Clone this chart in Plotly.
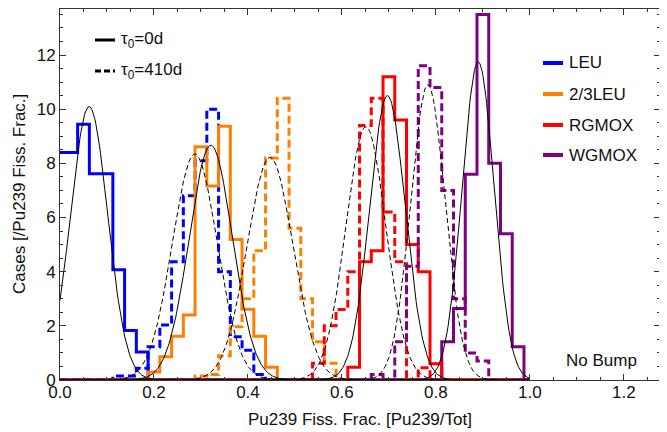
import numpy as np
import plotly.graph_objects as go

# ---------------- data ----------------
bin_width = 0.025

# Histogram heights [cases / Pu239 fiss. frac.], consecutive bins of width 0.025
leu_0d_start = -0.0125
leu_0d = [8.4, 8.4, 9.44, 7.62, 7.62, 4.07, 1.83, 1.03]
leu_410d_start = 0.1125
leu_410d = [0.15, 0.15, 0.43, 1.23, 2.03, 4.37, 6.8, 8.1, 10.0, 4.0, 1.6, 1.1, 0.2]

leu23_0d_start = 0.1875
leu23_0d = [0.3, 0.86, 1.62, 2.4, 8.61, 7.16, 9.37, 5.19, 2.61, 1.62, 0.47]
leu23_410d_start = 0.2875
leu23_410d = [0.15, 0.2, 0.9, 1.97, 3.0, 4.77, 8.2, 10.4, 5.6, 3.0, 1.41, 0.62]

rgmox_0d_start = 0.6125
rgmox_0d = [0.47, 4.37, 4.77, 11.2, 9.6, 5.0, 4.0, 0.6]
rgmox_410d_start = 0.5375
rgmox_410d = [0.62, 2.0, 2.6, 4.0, 9.4, 10.4, 6.2, 4.37, 0.0, 0.45]

wgmox_0d_start = 0.8125
wgmox_0d = [1.41, 2.64, 7.6, 13.5, 8.0, 5.4, 1.23]
wgmox_410d_start = 0.6625
wgmox_410d = [0.2, 0.0, 1.41, 4.2, 11.6, 10.8, 7.0, 3.0, 1.0, 0.7]

materials = ["LEU", "2/3LEU", "RGMOX", "WGMOX"]
colors = ["#0000ff", "#ff8000", "#ff0000", "#800080"]

# Gaussian fits (unit area): means and peak heights
fit_mu_0d = [0.062, 0.321, 0.697, 0.890]
fit_peak_0d = [10.1, 8.67, 10.5, 11.75]
fit_mu_410d = [0.287, 0.447, 0.651, 0.783]
fit_peak_410d = [8.34, 8.22, 9.35, 10.9]

x_ticks = [0.0, 0.2, 0.4, 0.6, 0.8, 1.0, 1.2]
y_ticks = [0, 2, 4, 6, 8, 10, 12]

# ---------------- figure ----------------
FONT = "Liberation Sans, Arial, sans-serif"
fig = go.Figure()

# (start, values, colour, dashed) in drawing order
hist_list = [
    (leu_0d_start, leu_0d, colors[0], False),
    (leu_410d_start, leu_410d, colors[0], True),
    (leu23_0d_start, leu23_0d, colors[1], False),
    (leu23_410d_start, leu23_410d, colors[1], True),
    (wgmox_0d_start, wgmox_0d, colors[3], False),
    (rgmox_410d_start, rgmox_410d, colors[2], True),
    (rgmox_0d_start, rgmox_0d, colors[2], False),
    (wgmox_410d_start, wgmox_410d, colors[3], True),
]


def step_xy(start, vals, xmin=0.0, xmax=1.0):
    edges = [start + i * bin_width for i in range(len(vals) + 1)]
    xs, ys = [], []
    if start > xmin:
        xs.append(xmin)
        ys.append(0.0)
    xs += edges
    ys += list(vals) + [0.0]
    xs.append(xmax)
    ys.append(0.0)
    return xs, ys


for start, vals, col, dashed in hist_list:
    xs, ys = step_xy(start, vals)
    fig.add_trace(go.Scatter(x=xs, y=ys, mode="lines", line_shape="hv",
                             line=dict(color=col, width=3, dash="8px,4px" if dashed else "solid"),
                             showlegend=False, hoverinfo="skip"))

xf = np.linspace(0.0, 1.0, 501)
for mu, pk in zip(fit_mu_0d, fit_peak_0d):
    sig = 1.0 / (pk * np.sqrt(2 * np.pi))
    fig.add_trace(go.Scatter(x=xf, y=pk * np.exp(-(xf - mu) ** 2 / (2 * sig ** 2)),
                             mode="lines", line=dict(color="black", width=1),
                             showlegend=False, hoverinfo="skip"))
for mu, pk in zip(fit_mu_410d, fit_peak_410d):
    sig = 1.0 / (pk * np.sqrt(2 * np.pi))
    fig.add_trace(go.Scatter(x=xf, y=pk * np.exp(-(xf - mu) ** 2 / (2 * sig ** 2)),
                             mode="lines", line=dict(color="black", width=1, dash="5px,3px"),
                             showlegend=False, hoverinfo="skip"))

axis_common = dict(
    showline=True, linecolor="#333", linewidth=1, mirror="allticks",
    ticks="inside", ticklen=6, tickcolor="#333", showgrid=False, zeroline=False,
    automargin=False,
    tickfont=dict(family=FONT, size=17, color="#111"),
)
fig.update_xaxes(range=[0, 1.277], tickvals=x_ticks, ticktext=[f"{v:.1f}" for v in x_ticks],
                 ticklabelstandoff=-3,
                 minor=dict(dtick=0.05, tick0=0, ticks="inside", ticklen=3, tickcolor="#333",
                            showgrid=False),
                 **axis_common)
fig.update_yaxes(range=[0, 13.7], tickvals=y_ticks, ticktext=[str(v) for v in y_ticks],
                 minor=dict(dtick=0.5, tick0=0, ticks="inside", ticklen=3, tickcolor="#333",
                            showgrid=False),
                 **axis_common)

shapes = []
annotations = []


def px2paper(X, Y):
    # page pixel -> paper coordinates (plot area spans X 60..660, Y 9..380 on the page)
    return (X - 60) / 600.0, (380 - Y) / 371.0


# top-left legend (time)
for Y, dash, label in [(40, "solid", "τ<sub>0</sub>=0d"), (71, "6px,3px", "τ<sub>0</sub>=410d")]:
    xa, ya = px2paper(95, Y)
    xb, _ = px2paper(115, Y)
    shapes.append(dict(type="line", xref="paper", yref="paper", x0=xa, x1=xb, y0=ya, y1=ya,
                       line=dict(color="black", width=3, dash=dash)))
    xt, _ = px2paper(119, Y)
    annotations.append(dict(xref="paper", yref="paper", x=xt, y=ya, text=label, showarrow=False,
                            xanchor="left", yanchor="middle",
                            font=dict(family=FONT, size=17, color="#111")))

# right legend (materials)
for Y, name, col in zip([63, 94, 125, 155], materials, colors):
    xa, ya = px2paper(543, Y)
    xb, _ = px2paper(563, Y)
    shapes.append(dict(type="line", xref="paper", yref="paper", x0=xa, x1=xb, y0=ya, y1=ya,
                       line=dict(color=col, width=4)))
    xt, _ = px2paper(567, Y)
    annotations.append(dict(xref="paper", yref="paper", x=xt, y=ya, text=name, showarrow=False,
                            xanchor="left", yanchor="middle",
                            font=dict(family=FONT, size=17, color="#111")))

xn, yn = px2paper(639, 360)
annotations.append(dict(xref="paper", yref="paper", x=xn, y=yn, text="No Bump", showarrow=False,
                        xanchor="right", yanchor="middle",
                        font=dict(family=FONT, size=17, color="#111")))

# axis titles
xt, yt = px2paper(360, 419)
annotations.append(dict(xref="paper", yref="paper", x=xt, y=yt,
                        text="Pu239 Fiss. Frac. [Pu239/Tot]", showarrow=False,
                        xanchor="center", yanchor="middle",
                        font=dict(family=FONT, size=17, color="#111")))
xt, yt = px2paper(19, 194)
annotations.append(dict(xref="paper", yref="paper", x=xt, y=yt,
                        text="Cases [/Pu239 Fiss. Frac.]", showarrow=False, textangle=-90,
                        xanchor="center", yanchor="middle",
                        font=dict(family=FONT, size=17, color="#111")))

# the page body adds an 8px offset, so the figure is 8px smaller with 8px less margin
fig.update_layout(
    width=659, height=424,
    margin=dict(l=52, r=7, t=1, b=52),
    paper_bgcolor="white", plot_bgcolor="white",
    shapes=shapes, annotations=annotations,
    showlegend=False,
)

fig.write_html("out.html")
